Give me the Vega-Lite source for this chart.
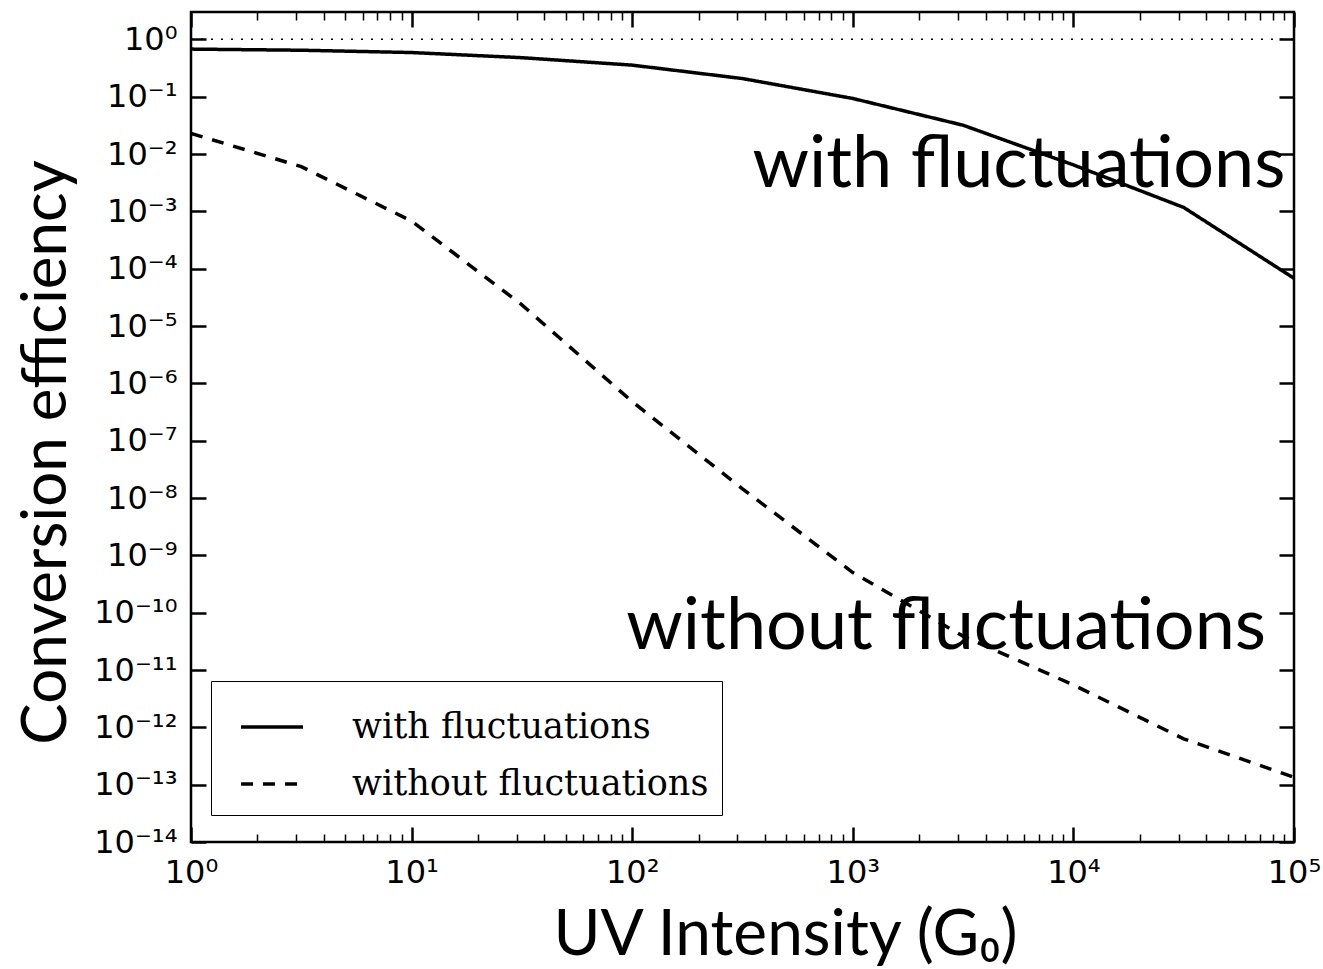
{
  "$schema": "https://vega.github.io/schema/vega-lite/v6.json",
  "width": 1103,
  "height": 830,
  "autosize": {"type": "none"},
  "padding": {"left": 191, "top": 12, "right": 29, "bottom": 127},
  "background": "white",
  "config": {
    "view": {"stroke": "black", "strokeWidth": 2.5},
    "axis": {
      "domain": false,
      "grid": false,
      "tickColor": "black",
      "tickCap": "butt",
      "labelColor": "black",
      "labelFont": "DejaVu Sans",
      "labelFontSize": 32,
      "labelFlush": false,
      "labelOverlap": false,
      "labelBound": false,
      "titleColor": "black",
      "titleFont": "Lato",
      "titleFontSize": 62,
      "titleFontWeight": "normal"
    },
    "legend": {
      "strokeColor": "black",
      "fillColor": "white",
      "cornerRadius": 0
    }
  },
  "datasets": {
    "curves": [
      {"g": 1, "eff": 0.676, "series": "with fluctuations"},
      {"g": 3.162, "eff": 0.646, "series": "with fluctuations"},
      {"g": 10, "eff": 0.589, "series": "with fluctuations"},
      {"g": 31.62, "eff": 0.479, "series": "with fluctuations"},
      {"g": 100, "eff": 0.355, "series": "with fluctuations"},
      {"g": 316.2, "eff": 0.207, "series": "with fluctuations"},
      {"g": 1000, "eff": 0.0931, "series": "with fluctuations"},
      {"g": 3162, "eff": 0.0318, "series": "with fluctuations"},
      {"g": 10000, "eff": 0.00646, "series": "with fluctuations"},
      {"g": 31623, "eff": 0.00117, "series": "with fluctuations"},
      {"g": 100000, "eff": 6.8e-5, "series": "with fluctuations"},
      {"g": 1, "eff": 0.0229, "series": "without fluctuations"},
      {"g": 3.162, "eff": 0.00603, "series": "without fluctuations"},
      {"g": 10, "eff": 6.76e-4, "series": "without fluctuations"},
      {"g": 31.62, "eff": 2.34e-5, "series": "without fluctuations"},
      {"g": 100, "eff": 4.79e-7, "series": "without fluctuations"},
      {"g": 316.2, "eff": 1.45e-8, "series": "without fluctuations"},
      {"g": 1000, "eff": 5.01e-10, "series": "without fluctuations"},
      {"g": 3162, "eff": 3.89e-11, "series": "without fluctuations"},
      {"g": 10000, "eff": 5.5e-12, "series": "without fluctuations"},
      {"g": 31623, "eff": 6.3e-13, "series": "without fluctuations"},
      {"g": 100000, "eff": 1.35e-13, "series": "without fluctuations"}
    ],
    "unity": [
      {"g": 1, "g2": 100000, "eff": 1}
    ],
    "notes": [
      {"g": 91500, "eff": 0.00268, "note": "with fluctuations"},
      {"g": 74700, "eff": 2.28e-11, "note": "without fluctuations"}
    ]
  },
  "resolve": {"axis": {"x": "independent", "y": "independent"}},
  "layer": [
    {
      "data": {"name": "curves"},
      "mark": {"type": "line", "color": "black", "strokeWidth": 3.5, "strokeCap": "butt", "clip": true},
      "encoding": {
        "x": {
          "field": "g", "type": "quantitative",
          "scale": {"type": "log", "domain": [1, 100000], "nice": false},
          "axis": {
            "orient": "bottom",
            "values": [1, 10, 100, 1000, 10000, 100000],
            "tickSize": 15, "tickWidth": 2.5, "offset": -15,
            "labelPadding": 40, "labelBaseline": "alphabetic",
            "labelExpr": "'10' + (round(log(datum.value)/LN10) < 0 ? '⁻' : '') + (abs(round(log(datum.value)/LN10)) >= 10 ? '¹' : '') + substring('⁰¹²³⁴⁵⁶⁷⁸⁹', abs(round(log(datum.value)/LN10)) % 10, abs(round(log(datum.value)/LN10)) % 10 + 1)",
            "title": "UV Intensity (G₀)",
            "titleFontSize": 64,
            "titleX": 594, "titleY": 127,
            "titleAlign": "center", "titleBaseline": "alphabetic"
          }
        },
        "y": {
          "field": "eff", "type": "quantitative",
          "scale": {"type": "log", "domain": [1e-14, 3], "nice": false},
          "axis": {
            "orient": "left",
            "values": [1e-14, 1e-13, 1e-12, 1e-11, 1e-10, 1e-9, 1e-8, 1e-7, 1e-6, 1e-5, 1e-4, 1e-3, 1e-2, 1e-1, 1],
            "tickSize": 15, "tickWidth": 2.5, "offset": -15,
            "labelPadding": 14, "labelBaseline": "middle",
            "labelExpr": "'10' + (round(log(datum.value)/LN10) < 0 ? '⁻' : '') + (abs(round(log(datum.value)/LN10)) >= 10 ? '¹' : '') + substring('⁰¹²³⁴⁵⁶⁷⁸⁹', abs(round(log(datum.value)/LN10)) % 10, abs(round(log(datum.value)/LN10)) % 10 + 1)",
            "title": "Conversion efficiency",
            "titleAngle": 270,
            "titleX": -141, "titleY": 440,
            "titleAlign": "center", "titleBaseline": "alphabetic"
          }
        },
        "strokeDash": {
          "field": "series", "type": "nominal",
          "scale": {"domain": ["with fluctuations", "without fluctuations"], "range": [[1, 0], [12, 10]]},
          "legend": {
            "orient": "none", "legendX": 20, "legendY": 669,
            "title": null,
            "direction": "vertical",
            "padding": 13,
            "rowPadding": 6,
            "symbolType": "stroke",
            "symbolSize": 3844,
            "symbolStrokeWidth": 3.5,
            "symbolStrokeColor": "black",
            "symbolOffset": 15,
            "labelOffset": 47,
            "labelFont": "DejaVu Serif",
            "labelFontSize": 35,
            "labelColor": "black",
            "labelLimit": 600
          }
        }
      }
    },
    {
      "data": {"name": "unity"},
      "mark": {"type": "rule", "color": "black", "strokeWidth": 1.5, "strokeDash": [2, 8]},
      "encoding": {
        "x": {
          "field": "g", "type": "quantitative",
          "scale": {"type": "log", "domain": [1, 100000], "nice": false},
          "axis": {
            "orient": "bottom",
            "values": [2, 3, 4, 5, 6, 7, 8, 9, 20, 30, 40, 50, 60, 70, 80, 90, 200, 300, 400, 500, 600, 700, 800, 900, 2000, 3000, 4000, 5000, 6000, 7000, 8000, 9000, 20000, 30000, 40000, 50000, 60000, 70000, 80000, 90000],
            "tickSize": 8, "tickWidth": 1.5, "offset": -8,
            "labels": false, "title": null
          }
        },
        "x2": {"field": "g2"},
        "y": {
          "field": "eff", "type": "quantitative",
          "scale": {"type": "log", "domain": [1e-14, 3], "nice": false},
          "axis": {
            "orient": "right",
            "values": [1e-14, 1e-13, 1e-12, 1e-11, 1e-10, 1e-9, 1e-8, 1e-7, 1e-6, 1e-5, 1e-4, 1e-3, 1e-2, 1e-1, 1],
            "tickSize": 15, "tickWidth": 2.5, "offset": -15,
            "labels": false, "title": null
          }
        }
      }
    },
    {
      "data": {"name": "notes"},
      "transform": [{"filter": "datum.note === 'with fluctuations'"}],
      "mark": {"type": "text", "font": "Lato", "fontSize": 72, "align": "right", "baseline": "alphabetic", "color": "black"},
      "encoding": {
        "x": {
          "field": "g", "type": "quantitative",
          "scale": {"type": "log", "domain": [1, 100000], "nice": false},
          "axis": {
            "orient": "top",
            "values": [1, 10, 100, 1000, 10000, 100000],
            "tickSize": 15, "tickWidth": 2.5, "offset": -15,
            "labels": false, "title": null
          }
        },
        "y": {
          "field": "eff", "type": "quantitative",
          "scale": {"type": "log", "domain": [1e-14, 3], "nice": false},
          "axis": null
        },
        "text": {"field": "note"}
      }
    },
    {
      "data": {"name": "notes"},
      "transform": [{"filter": "datum.note === 'without fluctuations'"}],
      "mark": {"type": "text", "font": "Lato", "fontSize": 72, "align": "right", "baseline": "alphabetic", "color": "black"},
      "encoding": {
        "x": {
          "field": "g", "type": "quantitative",
          "scale": {"type": "log", "domain": [1, 100000], "nice": false},
          "axis": {
            "orient": "top",
            "values": [2, 3, 4, 5, 6, 7, 8, 9, 20, 30, 40, 50, 60, 70, 80, 90, 200, 300, 400, 500, 600, 700, 800, 900, 2000, 3000, 4000, 5000, 6000, 7000, 8000, 9000, 20000, 30000, 40000, 50000, 60000, 70000, 80000, 90000],
            "tickSize": 8, "tickWidth": 1.5, "offset": -8,
            "labels": false, "title": null
          }
        },
        "y": {
          "field": "eff", "type": "quantitative",
          "scale": {"type": "log", "domain": [1e-14, 3], "nice": false},
          "axis": null
        },
        "text": {"field": "note"}
      }
    }
  ]
}
